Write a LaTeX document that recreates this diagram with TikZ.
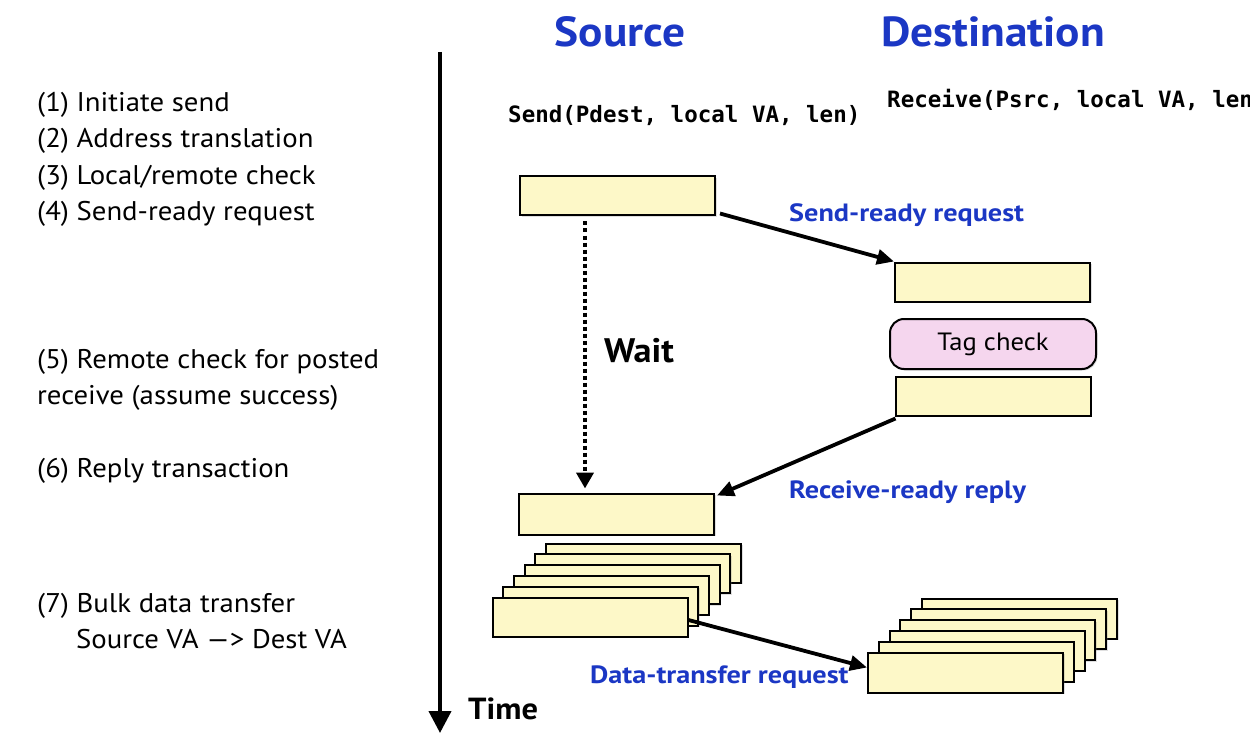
\documentclass[tikz,border=0pt]{standalone}
\usepackage{fontspec}
\setmainfont{PT Sans}[FakeStretch=1.065]
\newfontfamily\headfont{PT Sans}[FakeStretch=1.08]
\newfontfamily\labelfont{PT Sans}[FakeStretch=1.13]
\newfontfamily\codefont{DejaVu Sans Mono}
\usetikzlibrary{arrows.meta,shadows,calc}
\definecolor{boxfill}{HTML}{FDF8C8}
\definecolor{tagfill}{HTML}{F5D6EE}
\definecolor{labelblue}{HTML}{1B37C4}

\begin{document}
\begin{tikzpicture}[x=1pt,y=-1pt,
  msgbox/.style={draw=black, line width=2pt, fill=boxfill,
    minimum width=195pt, minimum height=39pt, inner sep=0pt, outer sep=0pt,
    drop shadow={opacity=0.25, shadow xshift=1.5pt, shadow yshift=-1.5pt}},
  tagbox/.style={msgbox, fill=tagfill, rounded corners=14pt,
    minimum width=206pt, minimum height=50pt,
    font=\fontsize{25}{29}\selectfont},
  steptext/.style={anchor=base west, inner sep=0pt, font=\fontsize{27}{32}\selectfont},
  heading/.style={anchor=base, inner sep=0pt, text=labelblue,
    font=\fontsize{42}{48}\selectfont\headfont\bfseries},
  codetext/.style={anchor=base west, inner sep=0pt,
    font=\fontsize{22.5}{26}\selectfont\codefont\bfseries},
  msglabel/.style={anchor=base west, inner sep=0pt, text=labelblue,
    font=\fontsize{25}{29}\selectfont\labelfont\bfseries},
  boldlabel/.style={anchor=base west, inner sep=0pt, font=\bfseries},
  msgarrow/.style={line width=3.8pt, -{Triangle[length=17pt,width=15pt]}},
  waitarrow/.style={line width=4pt, dash pattern=on 4pt off 3pt,
    -{Triangle[length=16pt,width=17pt]}},
]
\useasboundingbox (0,0) rectangle (1250,746);

% time axis
\coordinate (ttop) at (440,52);
\coordinate (tbot) at (440,733);
\draw[line width=4pt, -{Triangle[length=22pt,width=22pt]}] (ttop) -- (tbot);
\node[boldlabel, font=\fontsize{30.5}{36}\selectfont\bfseries] (time) at (468,719) {Time};

% column headings and calls
\node[heading] (hsrc) at (620,47) {Source};
\node[heading] (hdst) at (993,47) {Destination};
\node[codetext] (sendcall) at (508,123) {Send(Pdest, local VA, len)};
\node[codetext] (recvcall) at (887,108) {Receive(Psrc, local VA, len)};

% step descriptions
\node[steptext] (st1) at (37,112) {(1) Initiate send};
\node[steptext] (st2) at (37,148) {(2) Address translation};
\node[steptext] (st3) at (37,185) {(3) Local/remote check};
\node[steptext] (st4) at (37,221) {(4) Send-ready request};
\node[steptext] (st5a) at (37,368) {(5) Remote check for posted};
\node[steptext] (st5b) at (37,404) {receive (assume success)};
\node[steptext] (st6) at (37,477) {(6) Reply transaction};
\node[steptext] (st7a) at (37,612) {(7) Bulk data transfer};
\node[steptext] (st7b) at (76,648) {Source VA —> Dest VA};

% handshake boxes
\node[msgbox] (src1) at (617.5,196) {};
\node[msgbox] (dr1) at (992.5,282) {};
\node[tagbox] (tag) at (993,344) {Tag check};
\node[msgbox] (dr2) at (993,396) {};
\node[msgbox, minimum height=41pt] (src2) at (616.5,514) {};

% bulk transfer stacks, back to front
\foreach \i in {5,4,3,2,1} {
  \node[msgbox] (ss\i) at ({590+10.7*\i},{617-10.8*\i}) {};
}
\node[msgbox] (ss0) at (590,617) {};
\foreach \i in {5,4,3,2,1} {
  \node[msgbox, minimum height=40pt] (ds\i) at ({965.5+10.8*\i},{672.5-10.8*\i}) {};
}
\node[msgbox, minimum height=40pt] (ds0) at (965.5,672.5) {};

% connectors
\draw[msgarrow] ($(src1.south east)+(5,-2)$) -- ($(dr1.north west)+(-1,-1)$);
\draw[msgarrow] ($(dr2.south west)+(0,3)$) -- ($(src2.north east)+(3,2)$);
\draw[msgarrow] ($(ss0.east)+(1,3)$) -- ($(ds0.west)+(-1,-5)$);
\draw[waitarrow] ($(src1.south)+(-32.5,6)$) -- ($(src2.north)+(-31.5,-5)$);

% connector labels
\node[msglabel] (lsr) at (789,222) {Send-ready request};
\node[msglabel] (lrr) at (789,498) {Receive-ready reply};
\node[msglabel] (ldt) at (590,683) {Data-transfer request};
\node[boldlabel, font=\fontsize{34}{40}\selectfont\bfseries] (wait) at (604,362) {Wait};
\end{tikzpicture}
\end{document}
